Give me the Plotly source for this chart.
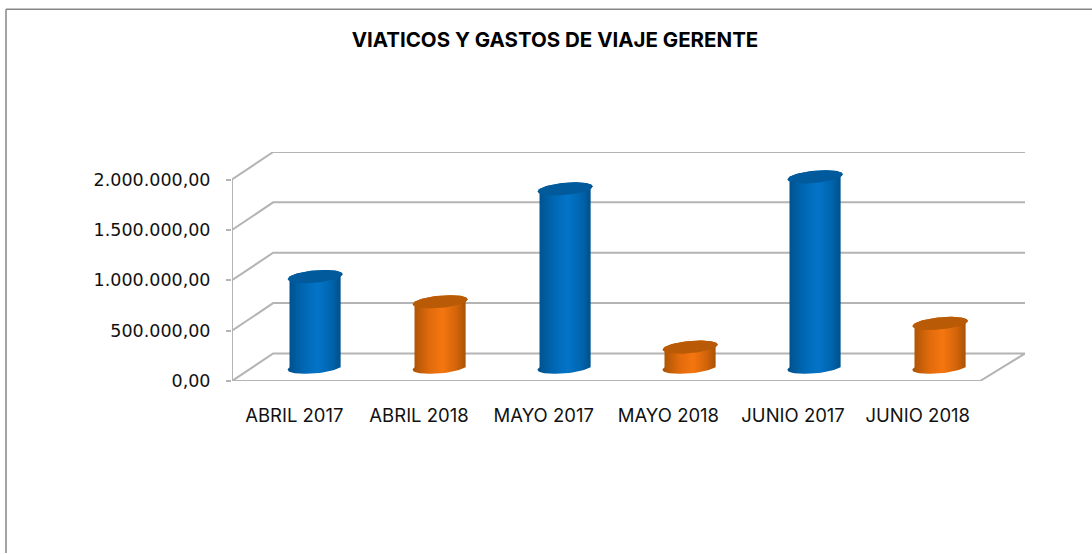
import numpy as np
import plotly.graph_objects as go

categories = ["ABRIL 2017", "ABRIL 2018", "MAYO 2017", "MAYO 2018", "JUNIO 2017", "JUNIO 2018"]
values = [900000, 650000, 1770000, 200000, 1890000, 435000]
y_ticks = [0, 500000, 1000000, 1500000, 2000000]
y_labels = ["0,00", "500.000,00", "1.000.000,00", "1.500.000,00", "2.000.000,00"]
series_group = ["2017", "2018", "2017", "2018", "2017", "2018"]

BODY = {"2017": [[0, "#004f8a"], [0.3, "#0068b4"], [0.55, "#0474c8"], [0.8, "#0064ad"], [1, "#004c85"]],
        "2018": [[0, "#a85204"], [0.3, "#e06a0c"], [0.55, "#f5760f"], [0.8, "#d2640a"], [1, "#a04e04"]]}
TOP = {"2017": "#005a9c", "2018": "#b85a06"}
GRID = "#b4b4b4"

# oblique projection: depth runs from the front plane to the back wall
DY = 273000.0
W = 0.205        # cylinder radius in category units
D = 0.24         # cylinder radius along the depth direction


def dx(cat):
    return 0.33 + 0.005 * cat


def proj(cat, val, depth):
    return cat + dx(cat) * depth, val + DY * depth


fig = go.Figure()


def line(xs, ys):
    fig.add_trace(go.Scatter(x=xs, y=ys, mode="lines", line=dict(color=GRID, width=2),
                             hoverinfo="skip", showlegend=False, cliponaxis=False))


ncat = len(categories)
for v in y_ticks:
    x0, y0 = proj(0, v, 0)
    x1, y1 = proj(0, v, 1)
    x2, y2 = proj(ncat, v, 1)
    if v == 0:
        x3, y3 = proj(ncat, v, 0)
        line([x0, x1, x2, x3, x0], [y0, y1, y2, y3, y0])
    else:
        line([x0, x1, x2], [y0, y1, y2])
line([0, 0], [0, max(y_ticks)])
for c in range(ncat + 1):
    line([c, c], [0, -45000])

t_low = np.linspace(np.pi, 2 * np.pi, 40)
t_up = np.linspace(0, np.pi, 40)
t_all = np.linspace(0, 2 * np.pi, 80)
for i, (v, g) in enumerate(zip(values, series_group)):
    cx = i + 0.5

    def ring(t, h):
        k = dx(cx)
        px = cx + k * 0.5 + W * np.cos(t) + k * D * np.sin(t)
        py = h + DY * 0.5 + DY * D * np.sin(t)
        return px, py

    bx, by = ring(t_low, 0)
    tx, ty = ring(t_up, v)
    fig.add_trace(go.Scatter(
        x=np.r_[bx, tx], y=np.r_[by, ty], mode="lines", fill="toself",
        line=dict(width=0), hoverinfo="skip", showlegend=False, cliponaxis=False,
        fillgradient=dict(type="horizontal", colorscale=BODY[g])))
    ex, ey = ring(t_all, v)
    fig.add_trace(go.Scatter(
        x=ex, y=ey, mode="lines", fill="toself", fillcolor=TOP[g],
        line=dict(width=0), hoverinfo="skip", showlegend=False, cliponaxis=False))

L, R, T, B = 232, 1025, 152, 381.5
fig.update_layout(
    width=1092, height=554, autosize=False,
    margin=dict(l=L, r=1092 - R, t=T, b=554 - B, pad=0),
    paper_bgcolor="white", plot_bgcolor="white",
    font=dict(family="Inter", color="#111111"),
    title=dict(text="<b>VIATICOS Y GASTOS DE VIAJE GERENTE</b>", x=555 / 1092, xanchor="center",
               y=1 - 40 / 554, yanchor="middle", font=dict(size=20.5, family="Inter", color="#000000")),
    xaxis=dict(range=[0, 6.36], tickmode="array", tickvals=[i + 0.5 for i in range(ncat)],
               ticktext=categories, showgrid=False, zeroline=False, showline=False, ticks="",
               tickfont=dict(size=18.5), ticklabelstandoff=21, fixedrange=True),
    yaxis=dict(range=[0, 2273000], tickmode="array", tickvals=y_ticks, ticktext=y_labels,
               showgrid=False, zeroline=False, showline=False, ticks="outside", ticklen=5,
               tickwidth=2, tickcolor=GRID, tickfont=dict(size=17.5, family="DejaVu Sans"),
               ticklabelstandoff=12, fixedrange=True),
    shapes=[
        dict(type="line", xref="paper", yref="paper", x0=(6 - L) / (R - L), x1=(1092 - L) / (R - L),
             y0=(B - 9) / (B - T), y1=(B - 9) / (B - T), line=dict(color="#868686", width=1.5)),
        dict(type="line", xref="paper", yref="paper", x0=(6 - L) / (R - L), x1=(6 - L) / (R - L),
             y0=(B - 9) / (B - T), y1=(B - 554) / (B - T), line=dict(color="#868686", width=1.5)),
    ],
)
fig.write_html("out.html", config={"displayModeBar": False},
               post_script="document.body.style.margin='0';document.body.style.overflow='hidden';")
